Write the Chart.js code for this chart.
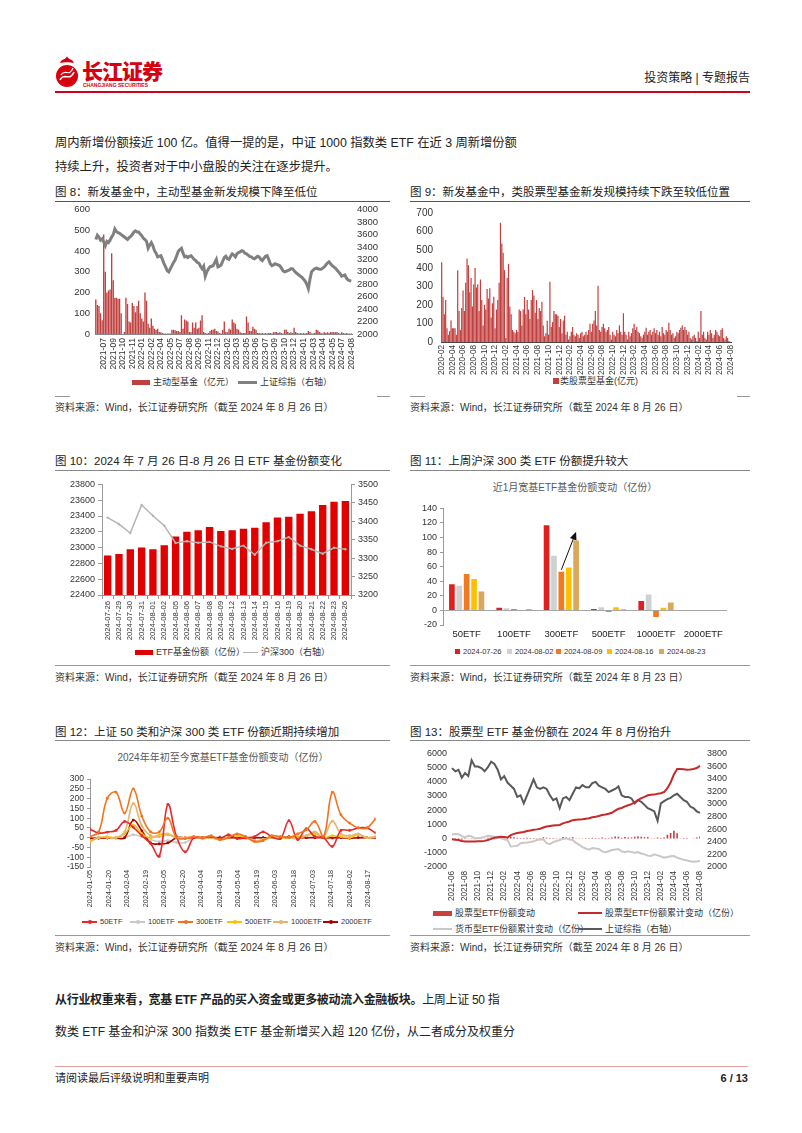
<!DOCTYPE html>
<html lang="zh">
<head>
<meta charset="UTF-8">
<title>投资策略 | 专题报告</title>
<script src="https://cdn.jsdelivr.net/npm/chart.js"></script>
<style>
  * { box-sizing: border-box; }
  body { margin: 0; background: #fff; font-family: "Liberation Sans", "Noto Sans CJK SC", sans-serif; color: #222; }
  .page { position: relative; width: 802px; height: 1133px; overflow: hidden; background: #fff; }
  .t { position: absolute; white-space: nowrap; line-height: 1; }
  .ln { position: absolute; }
  canvas { position: absolute; }
  .title { font-size: 11.5px; color: #222; }
  .src { font-size: 10px; color: #333; }
  .lg { font-size: 9px; color: #333; }
  .sub { font-size: 10px; color: #595959; }
  .body { font-size: 12.3px; color: #222; }
</style>
</head>
<body>
<div class="page">
  <!-- header -->
  <svg class="ln" style="left:52px;top:54px" width="30" height="36" viewBox="0 0 30 36">
    <path d="M8 9 C10 4 14 6 15 2 C16 6 20 4 22 9 C18 8 12 8 8 9 Z" fill="#d7000f"/>
    <circle cx="15" cy="22" r="11" fill="#d7000f"/>
    <path d="M8 26 C12 18 18 28 22 18" stroke="#fff" stroke-width="1.6" fill="none"/>
    <path d="M9 21 C13 14 17 24 21 14" stroke="#fff" stroke-width="1.2" fill="none"/>
  </svg>
  <div class="t" style="left:82px;top:60px;font-size:21px;font-weight:900;color:#d7000f;font-family:'Noto Sans CJK SC';letter-spacing:-1px">长江证券</div>
  <div class="t" style="left:83px;top:83px;font-size:5px;color:#d7000f;font-weight:bold">CHANGJIANG SECURITIES</div>
  <div class="t" style="right:52px;top:72px;font-size:12px">投资策略 | 专题报告</div>
  <div class="ln" style="left:55px;top:91px;width:695px;height:2px;background:#d0021b"></div>

  <div class="t body" style="left:55px;top:137px">周内新增份额接近 100 亿。值得一提的是，中证 1000 指数类 ETF 在近 3 周新增份额</div>
  <div class="t body" style="left:55px;top:161px">持续上升，投资者对于中小盘股的关注在逐步提升。</div>

  <!-- row 1 -->
  <div class="t title" style="left:55px;top:187px">图 8：新发基金中，主动型基金新发规模下降至低位</div>
  <div class="ln" style="left:55px;top:201px;width:335px;height:1px;background:#555"></div>
  <canvas id="c8" width="330" height="176" style="left:62px;top:199px"></canvas>
  <div class="ln" style="left:132px;top:380px;width:18px;height:5px;background:#c0403f"></div>
  <div class="t lg" style="left:153px;top:378px">主动型基金（亿元）</div>
  <div class="ln" style="left:238px;top:381px;width:19px;height:3px;background:#808080"></div>
  <div class="t lg" style="left:260px;top:378px">上证综指（右轴）</div>
  <div class="ln" style="left:55px;top:396px;width:15px;height:1px;background:#999"></div>
  <div class="ln" style="left:377px;top:396px;width:13px;height:1px;background:#999"></div>
  <div class="t src" style="left:55px;top:403px">资料来源：Wind，长江证券研究所（截至 2024 年 8 月 26 日）</div>

  <div class="t title" style="left:410px;top:187px">图 9：新发基金中，类股票型基金新发规模持续下跌至较低位置</div>
  <div class="ln" style="left:410px;top:201px;width:340px;height:1px;background:#555"></div>
  <canvas id="c9" width="345" height="176" style="left:405px;top:199px"></canvas>
  <div class="ln" style="left:553px;top:378px;width:6px;height:6px;background:#c0403f"></div>
  <div class="t lg" style="left:560px;top:377px">类股票型基金(亿元)</div>
  <div class="ln" style="left:410px;top:396px;width:15px;height:1px;background:#999"></div>
  <div class="ln" style="left:737px;top:396px;width:13px;height:1px;background:#999"></div>
  <div class="t src" style="left:410px;top:403px">资料来源：Wind，长江证券研究所（截至 2024 年 8 月 26 日）</div>

  <!-- row 2 -->
  <div class="t title" style="left:55px;top:456px">图 10：2024 年 7 月 26 日-8 月 26 日 ETF 基金份额变化</div>
  <div class="ln" style="left:55px;top:470px;width:335px;height:1px;background:#888"></div>
  <canvas id="c10" width="330" height="168" style="left:55px;top:476px"></canvas>
  <div class="ln" style="left:135px;top:650px;width:18px;height:5px;background:#e00000"></div>
  <div class="t lg" style="left:156px;top:648px">ETF基金份额（亿份）</div>
  <div class="ln" style="left:243px;top:652px;width:15px;height:1px;background:#b0b0b0"></div>
  <div class="t lg" style="left:261px;top:648px">沪深300（右轴）</div>
  <div class="ln" style="left:55px;top:665px;width:335px;height:1px;background:#999"></div>
  <div class="t src" style="left:55px;top:673px">资料来源：Wind，长江证券研究所（截至 2024 年 8 月 26 日）</div>

  <div class="t title" style="left:410px;top:456px">图 11：上周沪深 300 类 ETF 份额提升较大</div>
  <div class="ln" style="left:410px;top:470px;width:340px;height:1px;background:#888"></div>
  <div class="t sub" style="left:575px;top:483px;transform:translateX(-50%)">近1月宽基ETF基金份额变动（亿份）</div>
  <canvas id="c11" width="340" height="145" style="left:410px;top:500px"></canvas>
  <div id="lg11"></div>
  <div class="ln" style="left:410px;top:665px;width:340px;height:1px;background:#999"></div>
  <div class="t src" style="left:410px;top:673px">资料来源：Wind，长江证券研究所（截至 2024 年 8 月 23 日）</div>

  <!-- row 3 -->
  <div class="t title" style="left:55px;top:727px">图 12：上证 50 类和沪深 300 类 ETF 份额近期持续增加</div>
  <div class="ln" style="left:55px;top:740px;width:335px;height:1px;background:#888"></div>
  <div class="t sub" style="left:223px;top:753px;transform:translateX(-50%)">2024年年初至今宽基ETF基金份额变动（亿份）</div>
  <canvas id="c12" width="325" height="139" style="left:55px;top:771px"></canvas>
  <div id="lg12"></div>
  <div class="ln" style="left:55px;top:935px;width:335px;height:1px;background:#999"></div>
  <div class="t src" style="left:55px;top:943px">资料来源：Wind，长江证券研究所（截至 2024 年 8 月 26 日）</div>

  <div class="t title" style="left:410px;top:727px">图 13：股票型 ETF 基金份额在 2024 年 8 月份抬升</div>
  <div class="ln" style="left:410px;top:740px;width:340px;height:1px;background:#888"></div>
  <canvas id="c13" width="335" height="165" style="left:410px;top:741px"></canvas>
  <div class="ln" style="left:433px;top:911px;width:19px;height:5px;background:#c9403e"></div>
  <div class="t lg" style="left:455px;top:909px">股票型ETF份额变动</div>
  <div class="ln" style="left:578px;top:912px;width:24px;height:2px;background:#c8282b"></div>
  <div class="t lg" style="left:605px;top:909px">股票型ETF份额累计变动（亿份）</div>
  <div class="ln" style="left:433px;top:928px;width:19px;height:2px;background:#c8c8c8"></div>
  <div class="t lg" style="left:455px;top:925px">货币型ETF份额累计变动（亿份）</div>
  <div class="ln" style="left:578px;top:928px;width:24px;height:2px;background:#595959"></div>
  <div class="t lg" style="left:605px;top:925px">上证综指（右轴）</div>
  <div class="ln" style="left:410px;top:935px;width:340px;height:1px;background:#999"></div>
  <div class="t src" style="left:410px;top:943px">资料来源：Wind，长江证券研究所（截至 2024 年 8 月 26 日）</div>

  <!-- closing text -->
  <div class="t body" style="left:55px;top:994px;font-size:12px;letter-spacing:-0.3px"><b>从行业权重来看，宽基 ETF 产品的买入资金或更多被动流入金融板块。</b>上周上证 50 指</div>
  <div class="t body" style="left:55px;top:1026px;font-size:12px">数类 ETF 基金和沪深 300 指数类 ETF 基金新增买入超 120 亿份，从二者成分及权重分</div>
  <div class="ln" style="left:55px;top:1066px;width:693px;height:1px;background:#e8a0a0"></div>
  <div class="t" style="left:55px;top:1073px;font-size:11px">请阅读最后评级说明和重要声明</div>
  <div class="t" style="right:54px;top:1073px;font-size:11px;font-weight:bold">6 / 13</div>
</div>

<script>
// ---------- data ----------
// fig 8: weekly new active fund issuance (亿元) and SSE composite (right axis)
const fig8Ticks = ['2021-07','2021-09','2021-10','2021-11','2022-01','2022-02','2022-04','2022-05','2022-07',
  '2022-08','2022-09','2022-11','2022-12','2023-02','2023-03','2023-05','2023-06','2023-07','2023-09',
  '2023-10','2023-12','2024-01','2024-03','2024-04','2024-05','2024-07','2024-08'];
const fig8Active = [
  167,140,135,100,66,480, 300,200,210,215,390,260, 175,175,170,170,100,0, 10,175,145,60,55,150,
  135,105,135,160,100,75, 60,200,160,50,30,75, 40,25,20,25,10,8, 5,3,3,2,3,3,
  20,20,18,15,15,10, 90,25,70,65,60,10, 8,55,30,55,25,30, 65,90,10,5,3,5,
  15,20,20,25,15,12, 5,3,20,60,10,8, 25,20,70,55,50,25, 20,8,5,5,5,85,
  55,15,15,35,25,20, 5,5,3,5,3,5, 3,5,5,3,8,10, 10,5,8,5,3,20,
  20,10,5,8,5,30, 10,5,3,5,3,5, 3,5,15,10,3,3, 5,20,18,10,5,3,
  10,5,8,5,10,8, 10,8,10,5,3,8, 5,3,5,3,2,3];
const fig8Index = [
  3520,3590,3560,3510,3530,3480,3420,3490,3470,3510,3560,3600,3690,3650,3630,3620,3600,3580,3560,3540,
  3520,3550,3570,3600,3640,3660,3640,3640,3610,3580,3540,3520,3490,3380,3430,3470,3420,3340,3300,3240,
  3250,3260,3200,3130,3080,3020,3000,3050,3100,3150,3190,3260,3330,3360,3380,3300,3240,3250,3230,3250,
  3260,3230,3200,3180,3150,3140,3090,3050,3090,2930,3000,3050,3080,3090,3100,3150,3200,3080,3090,3110,
  3170,3230,3250,3210,3200,3250,3290,3270,3240,3290,3310,3320,3340,3330,3300,3290,3270,3250,3240,3220,
  3210,3230,3250,3240,3200,3180,3220,3250,3260,3200,3130,3100,3110,3130,3120,3110,3100,3060,3020,3000,
  3010,3020,3030,3050,3050,3020,2990,2970,2950,2930,2910,2880,2850,2800,2730,2880,3000,3030,3050,3060,
  3050,3040,3040,3060,3080,3110,3140,3160,3130,3100,3080,3060,3030,3000,2970,2930,2940,2950,2900,2870,
  2860,2850];

// fig 9: weekly new equity-like fund issuance (亿元)
const fig9Ticks = ['2020-02','2020-04','2020-06','2020-08','2020-10','2020-12','2021-02','2021-04','2021-06',
  '2021-08','2021-10','2021-12','2022-02','2022-04','2022-06','2022-08','2022-10','2022-12','2023-02',
  '2023-04','2023-06','2023-08','2023-10','2023-12','2024-02','2024-04','2024-06','2024-08'];
const fig9Equity = [
  433,245,150,228,74,40,60,116, 74,74,74,40,390,168,65,185, 279,168,322,453,416,270,347,193,
  313,402,296,313,168,339,228,90, 202,176,287,236,292,133,210,245, 74,176,228,322,647,535,484,390,
  22,347,424,193,150,65,56,48, 65,56,176,168,90,176,245,150, 228,176,125,228,282,253,159,228,
  125,185,168,219,90,31,48,115, 40,327,82,108,168,150,150,142, 82,125,48,116,142,40,56,14,
  31,56,82,40,31,48,40,22, 48,56,31,40,56,40,65,99, 56,99,116,168,90,305,65,56,
  82,99,74,56,65,82,40,14, 56,40,31,65,48,90,56,40, 156,56,40,14,56,31,48,74,
  99,65,82,56,48,31,22,40, 56,77,40,56,65,40,56,74, 48,65,40,56,31,82,48,40,
  65,56,104,65,40,48,22,31, 56,48,65,77,90,65,82,65, 40,56,22,14,31,40,22,5,
  56,22,168,40,56,22,14,56, 40,65,48,22,40,65,56,40, 31,65,74,22,14,31,22,5, 2];

// fig 10: ETF shares (亿份) and CSI 300 (right axis)
const fig10Dates = ['2024-07-26','2024-07-29','2024-07-30','2024-07-31','2024-08-01','2024-08-02','2024-08-05',
  '2024-08-06','2024-08-07','2024-08-08','2024-08-09','2024-08-12','2024-08-13','2024-08-14','2024-08-15',
  '2024-08-16','2024-08-19','2024-08-20','2024-08-21','2024-08-22','2024-08-23','2024-08-26'];
const fig10Shares = [22900,22920,22980,23000,22980,23030,23140,23200,23220,23260,23210,23220,23240,23250,
  23320,23380,23390,23430,23460,23540,23580,23590];
const fig10Csi300 = [3410,3392,3368,3444,3415,3388,3341,3346,3342,3344,3332,3325,3334,3309,3342,3346,
  3357,3334,3324,3312,3328,3324];

// fig 11: weekly change by broad-based ETF (亿份)
const fig11Cats = ['50ETF','100ETF','300ETF','500ETF','1000ETF','2000ETF'];
const fig11Weeks = ['2024-07-26','2024-08-02','2024-08-09','2024-08-16','2024-08-23'];
const fig11W1 = [36, 3.6, 117, 2, 13, 0];
const fig11W2 = [34, 3, 75, 4.5, 22, 0];
const fig11W3 = [50, 2, 53, -2, -9, 0];
const fig11W4 = [43, 0, 59, 4.5, 3.6, 0];
const fig11W5 = [26, 2, 96, 1.5, 11, 0];
const fig11ArrowTip = 108;

// fig 12: weekly change since start of 2024 (亿份)
const fig12Ticks = ['2024-01-05','2024-01-20','2024-02-04','2024-02-19','2024-03-05','2024-03-20','2024-04-04',
  '2024-04-19','2024-05-04','2024-05-19','2024-06-03','2024-06-18','2024-07-03','2024-07-18','2024-08-02','2024-08-17'];
const fig12Dates = ['2024-01-05','2024-01-12','2024-01-19','2024-01-26','2024-02-02','2024-02-09','2024-02-16',
  '2024-02-23','2024-03-01','2024-03-08','2024-03-15','2024-03-22','2024-03-29','2024-04-05','2024-04-12',
  '2024-04-19','2024-04-26','2024-05-03','2024-05-10','2024-05-17','2024-05-24','2024-05-31','2024-06-07',
  '2024-06-14','2024-06-21','2024-06-28','2024-07-05','2024-07-12','2024-07-19','2024-07-26','2024-08-02',
  '2024-08-09','2024-08-16','2024-08-23'];
const etf50 =   [44,24,29,37,83,53,10,-30,-95,170,5,-73,0,0,5,-5,15,-5,0,5,30,5,-5,87,-10,46,5,0,-45,37,37,50,50,25];
const etf100 =  [-5,0,0,0,0,15,5,-10,-20,-15,-25,-25,0,0,0,5,0,0,-5,0,0,0,0,0,0,0,5,0,-5,0,0,0,0,0];
const etf300 =  [5,30,202,233,126,250,110,30,30,100,0,-5,5,0,10,-10,0,20,5,-20,-15,10,5,0,20,40,83,7,233,117,75,50,50,97];
const etf500 =  [-20,0,5,0,20,65,20,0,15,20,0,0,5,0,0,-10,5,10,0,-15,-10,5,0,0,5,10,20,0,10,5,0,15,0,5];
const etf1000 = [-15,0,0,0,30,175,60,10,5,15,0,0,5,-5,0,-10,5,15,5,-15,-10,0,5,0,-5,10,30,5,85,20,10,20,0,5];
const etf2000 = [-3,-3,-2,-2,0,90,35,-27,-32,-27,0,0,0,0,0,0,0,0,0,0,0,0,0,5,0,0,0,0,0,0,-3,0,0,0];

// fig 13: stock ETF share change, cumulative stock / money ETF change, SSE composite (right axis)
const fig13Ticks = ['2021-06','2021-08','2021-10','2021-12','2022-02','2022-04','2022-06','2022-08','2022-10',
  '2022-12','2023-02','2023-04','2023-06','2023-08','2023-10','2023-12','2024-02','2024-04','2024-06','2024-08'];
const stockEtfChange = [-30,-20,-25,-60,-30,-10,-5,5,10,15,20,55,70,75,40,25,-15,-30,150,90,
  65,35,35,65,40,50,30,40,90,65,35,35,25,20,110,70,65,90,25,25,
  20,35,35,65,40,50,70,40,50,70,150,125,55,110,85,75,135,160,135,90,
  115,25,20,70,35,80,270,400,560,380,-5,-20,-25,15,30,70,155];
const stockEtfCum = [-54,-80,-100,-167,-200,-210,-212,-205,-195,-180,-160,-100,-20,60,100,126,110,80,240,330,
  397,430,464,532,570,622,650,690,780,847,880,915,940,960,1072,1140,1207,1298,1320,1343,
  1365,1400,1433,1500,1540,1590,1658,1700,1748,1816,1974,2100,2154,2266,2350,2424,2558,2716,2850,2940,
  3053,3080,3098,3166,3200,3278,3548,3954,4518,4901,4900,4880,4856,4870,4900,4969,5126];
const moneyEtfCum = [306,330,300,171,81,200,150,14,40,59,120,194,160,126,80,14,-40,-100,-550,-530,
  -504,-325,-300,-280,-240,-190,-100,-70,-54,-325,-392,-250,-167,-100,-20,14,-60,-100,-300,-437,
  -600,-700,-775,-662,-700,-730,-900,-955,-887,-800,-775,-730,-900,-955,-887,-950,-1000,-955,-1050,-1112,
  -1200,-1225,-1112,-1180,-1250,-1338,-1300,-1250,-1225,-1338,-1420,-1495,-1540,-1590,-1630,-1608,-1585];
const sseIndex = [3567,3516,3541,3415,3490,3440,3693,3592,3592,3567,3516,3582,3668,3632,3541,3389,3440,3338,3288,3237,
  3110,3136,3009,3136,3262,3389,3262,3237,3262,3237,3136,3060,3086,2933,3086,3110,3060,3161,3262,3247,
  3298,3262,3262,3328,3349,3288,3262,3237,3186,3212,3237,3278,3136,3110,3110,3086,3009,3060,3034,2984,
  2933,2908,2882,2730,3009,3044,3075,3095,3136,3161,3110,3060,3034,2958,2933,2882,2857];

// ---------- shared setup ----------
Chart.defaults.font.family = '"Liberation Sans", "Noto Sans CJK SC", sans-serif';
Chart.defaults.color = '#333';
Chart.defaults.animation = false;
Chart.defaults.plugins.legend.display = false;
Chart.defaults.plugins.tooltip.enabled = false;

const setW = w => s => { s.width = w; };
const setH = h => s => { s.height = h; };
const idx = arr => arr.map((_, i) => i);
const plain = v => String(v);
const everyN = (ticks, n, start) => (v, i) => ((i - start) % n === 0 && i >= start) ? ticks[(i - start) / n] : null;
const noGrid = { display: false, drawTicks: false };

// ---------- fig 8 ----------
new Chart(document.getElementById('c8'), {
  type: 'bar',
  data: {
    labels: idx(fig8Active),
    datasets: [
      { type: 'line', data: fig8Index, yAxisID: 'y1', borderColor: '#808080', borderWidth: 3,
        pointRadius: 0, tension: 0, order: 0 },
      { type: 'bar', data: fig8Active, yAxisID: 'y', backgroundColor: '#c0403f',
        barPercentage: 1, categoryPercentage: 0.85, order: 1 }
    ]
  },
  options: {
    responsive: false,
    layout: { padding: { top: 7, left: 0, right: 0, bottom: 0 } },
    scales: {
      x: { grid: noGrid, border: { display: true, color: '#888' },
        ticks: { autoSkip: false, minRotation: 90, maxRotation: 90, padding: 4, font: { size: 8.6 },
          callback: everyN(fig8Ticks, 6, 5) }, afterFit: setH(41) },
      y: { position: 'left', min: 0, max: 600, grid: noGrid, border: { display: false },
        ticks: { stepSize: 100, autoSkip: false, padding: 5, font: { size: 9.5 }, callback: plain }, afterFit: setW(33) },
      y1: { position: 'right', min: 2000, max: 4000, grid: noGrid, border: { display: false },
        ticks: { stepSize: 200, autoSkip: false, padding: 5, font: { size: 9.5 }, callback: plain }, afterFit: setW(40) }
    }
  }
});

// ---------- fig 9 ----------
new Chart(document.getElementById('c9'), {
  type: 'bar',
  data: {
    labels: idx(fig9Equity),
    datasets: [{ data: fig9Equity, backgroundColor: '#c0403f', barPercentage: 1, categoryPercentage: 0.9 }]
  },
  options: {
    responsive: false,
    layout: { padding: { top: 7, right: 19 } },
    scales: {
      x: { grid: noGrid, border: { display: true, color: '#444' },
        ticks: { autoSkip: false, minRotation: 90, maxRotation: 90, padding: 3, font: { size: 8.2 },
          callback: everyN(fig9Ticks, 8, 0) }, afterFit: setH(33) },
      y: { min: 0, max: 700, grid: noGrid, border: { display: false },
        ticks: { stepSize: 100, autoSkip: false, padding: 8, font: { size: 10 }, callback: plain }, afterFit: setW(36) }
    }
  }
});

// ---------- fig 10 ----------
new Chart(document.getElementById('c10'), {
  type: 'bar',
  data: {
    labels: fig10Dates,
    datasets: [
      { type: 'line', data: fig10Csi300, yAxisID: 'y1', borderColor: '#b4b4b4', borderWidth: 1.5,
        pointRadius: 1.2, pointBackgroundColor: '#b4b4b4', pointBorderWidth: 0, tension: 0, order: 0 },
      { type: 'bar', data: fig10Shares, yAxisID: 'y', backgroundColor: '#e00000',
        barPercentage: 0.65, categoryPercentage: 1, order: 1 }
    ]
  },
  options: {
    responsive: false,
    layout: { padding: { top: 7 } },
    scales: {
      x: { grid: { display: true, drawOnChartArea: false, tickLength: 4, color: '#999' },
        border: { display: true, color: '#999' },
        ticks: { autoSkip: false, minRotation: 90, maxRotation: 90, padding: 2, font: { size: 7.7 } },
        afterFit: setH(49) },
      y: { position: 'left', min: 22400, max: 23800,
        grid: { display: true, drawOnChartArea: false, tickLength: 4, color: '#999' },
        border: { display: true, color: '#999' },
        ticks: { stepSize: 200, autoSkip: false, padding: 3, font: { size: 9 }, callback: plain }, afterFit: setW(47) },
      y1: { position: 'right', min: 3200, max: 3500,
        grid: { display: true, drawOnChartArea: false, tickLength: 4, color: '#999' },
        border: { display: true, color: '#999' },
        ticks: { stepSize: 50, autoSkip: false, padding: 3, font: { size: 9 }, callback: plain }, afterFit: setW(34) }
    }
  }
});

// ---------- fig 11 ----------
const fig11Colors = ['#e0201e', '#d0d0d0', '#f07a22', '#ffc000', '#d9a85a'];
const fig11Series = [fig11W1, fig11W2, fig11W3, fig11W4, fig11W5];
const arrowPlugin = {
  id: 'arrow11',
  afterDatasetsDraw(chart) {
    const from = chart.getDatasetMeta(2).data[2];
    const to = chart.getDatasetMeta(4).data[2];
    const x0 = from.x, y0 = from.y - 2;
    const x1 = to.x, y1 = chart.scales.y.getPixelForValue(fig11ArrowTip);
    const ctx = chart.ctx;
    const a = Math.atan2(y1 - y0, x1 - x0);
    ctx.save();
    ctx.strokeStyle = '#111';
    ctx.fillStyle = '#111';
    ctx.lineWidth = 1;
    ctx.beginPath();
    ctx.moveTo(x0, y0);
    ctx.lineTo(x1 - 5 * Math.cos(a), y1 - 5 * Math.sin(a));
    ctx.stroke();
    ctx.beginPath();
    ctx.moveTo(x1, y1);
    ctx.lineTo(x1 - 8 * Math.cos(a) + 3.5 * Math.sin(a), y1 - 8 * Math.sin(a) - 3.5 * Math.cos(a));
    ctx.lineTo(x1 - 8 * Math.cos(a) - 3.5 * Math.sin(a), y1 - 8 * Math.sin(a) + 3.5 * Math.cos(a));
    ctx.closePath();
    ctx.fill();
    ctx.restore();
  }
};
new Chart(document.getElementById('c11'), {
  type: 'bar',
  data: {
    labels: fig11Cats,
    datasets: fig11Series.map((s, i) => ({ label: fig11Weeks[i], data: s, backgroundColor: fig11Colors[i],
      barPercentage: 0.77, categoryPercentage: 0.78 }))
  },
  options: {
    responsive: false,
    layout: { padding: { top: 8, right: 23 } },
    scales: {
      x: { grid: noGrid, border: { display: false },
        ticks: { padding: 4, font: { size: 9.5 }, color: '#222' }, afterFit: setH(20) },
      y: { min: -20, max: 140,
        grid: { display: true, tickLength: 3, tickColor: '#999',
          color: c => (c.tick && c.tick.value === 0) ? '#a6a6a6' : 'rgba(0,0,0,0)' },
        border: { display: true, color: '#999' },
        ticks: { stepSize: 20, autoSkip: false, padding: 3, font: { size: 9 }, callback: plain }, afterFit: setW(33) }
    }
  },
  plugins: [arrowPlugin]
});
(function () {
  const lg = document.getElementById('lg11');
  const xs = [455, 507, 556, 607, 659];
  fig11Weeks.forEach((w, i) => {
    lg.insertAdjacentHTML('beforeend',
      `<div class="ln" style="left:${xs[i]}px;top:649px;width:5px;height:5px;background:${fig11Colors[i]}"></div>` +
      `<div class="t" style="left:${xs[i] + 8}px;top:648px;font-size:7.5px;color:#333">${w}</div>`);
  });
})();

// ---------- fig 12 ----------
const dayOf = s => Date.parse(s + 'T00:00:00Z') / 86400000;
const day0 = dayOf(fig12Dates[0]);
const fig12Names = ['50ETF', '100ETF', '300ETF', '500ETF', '1000ETF', '2000ETF'];
const fig12Colors = ['#e8282a', '#c9c9c9', '#f2731e', '#ffc000', '#e6b46e', '#b00000'];
const fig12Series = [etf50, etf100, etf300, etf500, etf1000, etf2000];
const fig12Order = [1, 5, 0, 3, 2, 4];
new Chart(document.getElementById('c12'), {
  type: 'line',
  data: {
    datasets: fig12Series.map((s, i) => ({
      label: fig12Names[i],
      data: fig12Dates.map((d, k) => ({ x: dayOf(d) - day0, y: s[k] })),
      borderColor: fig12Colors[i], backgroundColor: fig12Colors[i], borderWidth: 1.6,
      pointRadius: 1.4, pointBorderWidth: 0, tension: 0.4, order: fig12Order[i]
    }))
  },
  options: {
    responsive: false,
    layout: { padding: { top: 8, right: 4 } },
    scales: {
      x: { type: 'linear', min: 0, max: dayOf(fig12Dates[fig12Dates.length - 1]) - day0,
        grid: noGrid, border: { display: false },
        afterBuildTicks: s => { s.ticks = fig12Ticks.map(t => ({ value: dayOf(t) - day0 })); },
        ticks: { autoSkip: false, minRotation: 90, maxRotation: 90, padding: 3, font: { size: 7.3 },
          callback: v => { const i = fig12Ticks.findIndex(t => dayOf(t) - day0 === v); return i >= 0 ? fig12Ticks[i] : ''; } },
        afterFit: setH(43) },
      y: { min: -150, max: 300,
        grid: { display: true, drawOnChartArea: false, tickLength: 3, color: '#999' },
        border: { display: true, color: '#999' },
        ticks: { stepSize: 50, autoSkip: false, padding: 3, font: { size: 8.5 }, callback: plain }, afterFit: setW(35) }
    }
  }
});
(function () {
  const lg = document.getElementById('lg12');
  const xs = [82, 130, 178, 227, 273, 323];
  fig12Names.forEach((n, i) => {
    lg.insertAdjacentHTML('beforeend',
      `<div class="ln" style="left:${xs[i]}px;top:921px;width:15px;height:1.6px;background:${fig12Colors[i]}"></div>` +
      `<div class="ln" style="left:${xs[i] + 6}px;top:920px;width:3.5px;height:3.5px;border-radius:50%;background:${fig12Colors[i]}"></div>` +
      `<div class="t" style="left:${xs[i] + 18}px;top:918px;font-size:7.5px;color:#333">${n}</div>`);
  });
})();

// ---------- fig 13 ----------
new Chart(document.getElementById('c13'), {
  type: 'bar',
  data: {
    labels: idx(sseIndex),
    datasets: [
      { type: 'line', data: stockEtfCum, yAxisID: 'y', borderColor: '#c8282b', borderWidth: 2,
        pointRadius: 0, tension: 0, order: 0 },
      { type: 'line', data: sseIndex, yAxisID: 'y1', borderColor: '#595959', borderWidth: 2,
        pointRadius: 0, tension: 0, order: 1 },
      { type: 'line', data: moneyEtfCum, yAxisID: 'y', borderColor: '#c8c8c8', borderWidth: 2,
        pointRadius: 0, tension: 0, order: 2 },
      { type: 'bar', data: stockEtfChange, yAxisID: 'y', backgroundColor: '#c9403e',
        barPercentage: 0.5, categoryPercentage: 1, order: 3 }
    ]
  },
  options: {
    responsive: false,
    layout: { padding: { top: 7 } },
    scales: {
      x: { offset: false, grid: noGrid, border: { display: false },
        ticks: { autoSkip: false, minRotation: 90, maxRotation: 90, padding: 4, font: { size: 8.2 },
          callback: everyN(fig13Ticks, 4, 0) }, afterFit: setH(39) },
      y: { position: 'left', min: -2000, max: 6000, grid: noGrid, border: { display: false },
        ticks: { stepSize: 1000, autoSkip: false, padding: 5, font: { size: 9 }, callback: plain }, afterFit: setW(42) },
      y1: { position: 'right', min: 2000, max: 3800, grid: noGrid, border: { display: false },
        ticks: { stepSize: 200, autoSkip: false, padding: 7, font: { size: 9 }, callback: plain }, afterFit: setW(45) }
    }
  }
});
</script>
</body>
</html>
